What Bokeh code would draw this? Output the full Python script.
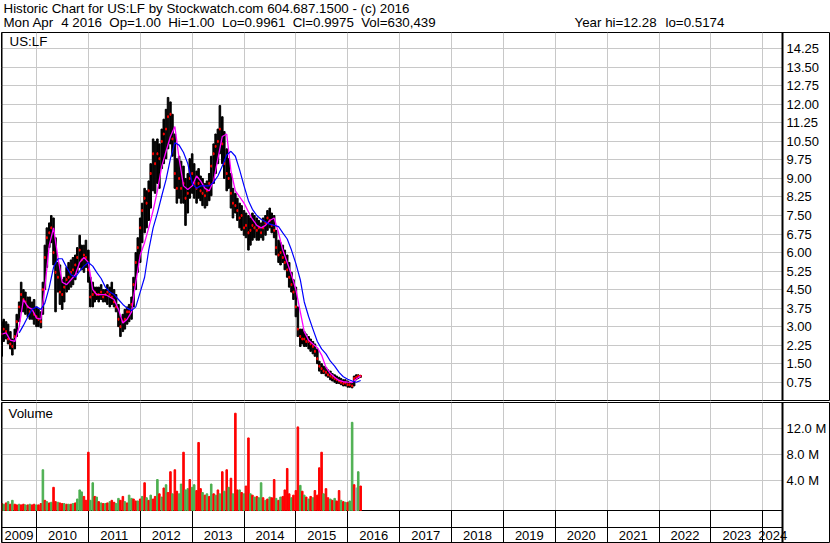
import pandas as pd
from bokeh.plotting import figure
from bokeh.layouts import column
from bokeh.models import (Range1d, FixedTicker, Label, Grid,
                          ColumnDataSource, LinearAxis, NumeralTickFormatter)
from bokeh.core.properties import value
from bokeh.embed import file_html
from bokeh.resources import INLINE

# ---------------- data ----------------
first_date = "2009-05-01"          # semi-monthly bars
low = [1.8, 2.4, 2.5, 2.3, 2.1, 1.85, 2.1, 2.6, 3.2, 3.6, 3.6, 3.5, 3.4, 3.3, 3.3, 3.1,
       3.0, 3.0, 2.95, 3.5, 4.5, 5.4, 6.2, 6.4, 5.5, 3.6, 4.4, 3.9, 3.7, 4.0, 4.4, 4.5,
       4.6, 4.7, 4.9, 5.2, 5.4, 5.3, 5.2, 5.4, 4.8, 3.8, 3.8, 4.0, 4.1, 4.0, 4.1, 4.0,
       4.0, 3.9, 3.8, 3.9, 3.8, 3.6, 3.0, 2.6, 2.8, 2.9, 3.1, 3.2, 3.3, 3.8, 4.5, 5.2,
       5.6, 6.4, 6.8, 7.0, 7.3, 7.8, 8.5, 8.4, 8.8, 8.6, 9.4, 9.6, 9.8, 10.2, 10.4, 9.9,
       8.6, 8.0, 8.2, 8.0, 8.0, 7.1, 7.6, 8.2, 8.4, 8.2, 8.0, 8.2, 8.1, 7.9, 7.8, 7.9,
       8.1, 8.3, 8.8, 9.2, 9.6, 10.0, 9.6, 9.0, 8.5, 8.6, 7.8, 7.4, 7.6, 7.3, 7.0, 6.9,
       6.7, 6.6, 6.1, 6.3, 6.5, 6.6, 6.5, 6.5, 6.6, 6.5, 6.7, 6.9, 7.0, 6.8, 6.6, 5.9,
       5.6, 5.5, 5.6, 5.3, 5.0, 4.6, 4.4, 4.1, 3.4, 2.6, 2.2, 2.3, 2.2, 2.2, 2.1, 2.0,
       1.9, 1.8, 1.5, 1.2, 1.1, 1.1, 1.0, 0.95, 0.85, 0.8, 0.75, 0.7, 0.7, 0.65, 0.6, 0.6,
       0.55, 0.55, 0.52, 0.6, 0.85, 0.9, 0.95]
high = [3.2, 3.3, 3.2, 3.1, 2.8, 2.5, 2.9, 3.5, 4.0, 4.8, 4.5, 4.4, 4.2, 4.2, 4.0, 4.1,
        3.8, 3.7, 3.6, 4.8, 6.3, 7.0, 7.2, 7.5, 7.4, 6.6, 5.6, 5.5, 4.9, 5.0, 5.4, 5.6,
        5.7, 5.8, 5.9, 6.2, 6.7, 6.3, 6.3, 6.5, 6.1, 5.0, 4.8, 4.6, 4.6, 4.6, 4.7, 4.5,
        4.5, 4.7, 4.6, 4.8, 4.5, 4.3, 3.9, 3.4, 3.5, 3.7, 3.8, 3.9, 4.2, 5.0, 6.0, 6.6,
        7.4, 8.0, 8.6, 8.5, 8.9, 9.6, 10.6, 10.5, 10.6, 10.4, 11.0, 11.4, 11.8, 12.28, 12.1, 11.6,
        10.8, 9.8, 9.9, 9.7, 9.5, 9.0, 9.2, 9.8, 10.0, 9.6, 9.3, 9.4, 9.1, 9.0, 8.8, 8.9,
        9.2, 9.9, 10.4, 10.8, 11.0, 11.95, 11.5, 10.9, 10.2, 9.8, 9.2, 8.6, 8.4, 8.2, 8.0, 7.9,
        7.7, 7.6, 7.5, 7.4, 7.6, 7.5, 7.4, 7.3, 7.2, 7.4, 7.5, 7.7, 7.8, 7.6, 7.5, 6.9,
        6.5, 6.4, 6.3, 6.1, 5.9, 5.6, 5.2, 4.9, 4.6, 3.8, 2.9, 2.9, 2.8, 2.7, 2.6, 2.5,
        2.4, 2.3, 2.1, 1.6, 1.5, 1.4, 1.35, 1.25, 1.2, 1.1, 1.05, 1.0, 0.95, 0.9, 0.85, 0.85,
        0.8, 0.75, 0.7, 1.0, 1.05, 1.05, 1.02]
close = [2.7, 2.9, 2.8, 2.5, 2.3, 2.2, 2.6, 3.2, 3.8, 4.3, 4.1, 4.0, 3.8, 3.6, 3.7, 3.5,
         3.4, 3.3, 3.2, 4.5, 5.8, 6.6, 6.8, 7.0, 6.0, 5.2, 5.0, 4.4, 4.3, 4.6, 4.9, 5.0,
         5.2, 5.3, 5.5, 5.8, 6.1, 5.7, 5.9, 5.8, 5.3, 4.2, 4.3, 4.4, 4.3, 4.3, 4.4, 4.2,
         4.3, 4.4, 4.3, 4.2, 4.0, 3.8, 3.3, 3.0, 3.2, 3.3, 3.6, 3.6, 3.9, 4.7, 5.6, 6.2,
         7.0, 7.7, 8.2, 8.0, 8.5, 9.2, 10.0, 9.6, 10.0, 9.8, 10.5, 10.8, 11.0, 11.5, 11.6, 10.6,
         9.2, 8.6, 9.0, 8.6, 8.8, 8.2, 8.4, 9.0, 9.2, 8.8, 8.6, 8.8, 8.5, 8.4, 8.3, 8.5,
         8.8, 9.5, 10.0, 10.3, 10.5, 11.0, 10.4, 9.6, 9.2, 9.0, 8.4, 8.0, 7.9, 7.7, 7.4, 7.5,
         7.0, 7.1, 6.8, 6.9, 7.1, 7.0, 6.9, 7.0, 6.8, 7.0, 7.2, 7.4, 7.3, 7.1, 6.9, 6.2,
         5.9, 6.0, 5.8, 5.6, 5.3, 5.0, 4.7, 4.4, 3.8, 2.9, 2.6, 2.5, 2.5, 2.4, 2.4, 2.3,
         2.2, 2.0, 1.7, 1.4, 1.3, 1.2, 1.15, 1.05, 1.0, 0.95, 0.9, 0.85, 0.8, 0.75, 0.7, 0.72,
         0.65, 0.65, 0.6, 0.9, 0.95, 1.0, 1.0]
# short moving average (magenta), one value per month starting with the first bar
ma_short = [2.7, 2.75, 2.45, 2.4, 3.0, 4.1, 3.8, 3.7, 3.35, 3.3, 4.6, 6.3, 7.0, 5.8, 4.8, 4.7,
            4.9, 5.1, 5.6, 5.8, 5.6, 4.5, 4.3, 4.3, 4.3, 4.2, 4.1, 3.7, 3.15, 3.3, 3.6, 4.8,
            5.9, 6.4, 7.0, 7.7, 8.5, 9.5, 10.1, 10.7, 11.1, 9.8, 8.7, 8.55, 8.7, 9.1, 8.9, 8.6,
            8.5, 8.9, 9.8, 10.7, 10.8, 9.3, 8.5, 8.25, 8.0, 7.65, 7.35, 7.1, 7.0, 7.1, 7.3, 7.4,
            6.8, 6.1, 5.6, 5.1, 4.5, 3.6, 2.8, 2.45, 2.3, 2.15, 1.85, 1.35, 1.1, 0.95, 0.82, 0.77,
            0.75, 0.74, 0.88, 1.0]
# long moving average (blue), one value per month starting with bar no. 8
ma_long_first = 8
ma_long = [2.75, 3.05, 3.4, 3.7, 3.8, 3.7, 3.95, 4.6, 5.4, 5.75, 5.75, 5.4, 5.1, 5.0, 5.25, 5.45,
           5.6, 5.45, 5.2, 4.95, 4.6, 4.4, 4.3, 4.1, 3.9, 3.75, 3.65, 3.8, 4.4, 5.0, 6.1, 7.0,
           7.6, 8.3, 8.95, 9.8, 10.45, 10.35, 10.05, 9.6, 8.8, 8.6, 8.7, 8.7, 8.7, 8.85, 9.1, 9.5,
           9.95, 10.1, 9.9, 9.35, 8.7, 8.1, 7.75, 7.5, 7.35, 7.25, 7.15, 7.1, 7.05, 6.8, 6.55, 6.1,
           5.55, 4.9, 4.0, 3.4, 2.9, 2.4, 2.1, 1.9, 1.6, 1.4, 1.15, 0.97, 0.87, 0.8, 0.75, 0.82]
# volume in millions, and bar colour code (r = down, g = up, x = unchanged)
volume_m = [0.5, 0.4, 0.6, 0.8, 0.4, 1.0, 0.4, 0.3, 0.4, 0.3, 0.4, 0.3, 0.3, 0.4, 0.3, 0.4,
            0.3, 0.3, 0.5, 5.7, 1.0, 0.8, 0.6, 0.7, 3.0, 0.8, 0.7, 0.6, 0.5, 0.5, 0.4, 0.4,
            0.4, 0.5, 0.6, 1.2, 2.6, 2.3, 1.6, 1.0,
            8.4, 1.0, 3.7, 1.6, 1.5, 0.8, 0.6, 0.5, 0.5, 0.6, 0.8, 1.0, 0.7, 0.5, 1.3, 1.0,
            1.6, 0.8, 0.6, 1.8, 1.3, 1.2, 0.9, 0.9,
            1.2, 1.6, 3.7, 1.4, 1.0, 1.8, 1.2, 1.6, 4.2, 2.0, 1.5, 2.9, 3.4, 2.2, 5.4, 2.0,
            5.7, 2.4, 2.0, 3.5, 8.4, 2.6, 2.8, 4.2,
            3.0, 3.4, 2.5, 9.9, 2.8, 2.2, 1.8, 2.0, 1.6, 3.5, 2.0, 1.8, 2.6, 2.0, 5.4, 2.4,
            5.7, 3.0, 4.4, 2.0, 14.4, 2.6, 2.6, 2.2,
            2.0, 3.2, 10.6, 2.0, 1.8, 1.5, 1.6, 1.4, 3.7, 1.4, 1.0, 1.2, 1.5, 1.4, 4.2, 1.3,
            1.0, 1.5, 1.6, 2.6, 5.9, 2.0, 1.4, 1.8,
            2.5, 12.3, 3.3, 2.4, 1.8, 1.5, 1.2, 1.6, 1.4, 2.5, 1.8, 6.0, 8.4, 2.0, 2.8, 1.4,
            1.2, 1.0, 1.3, 0.9, 2.5, 1.0, 0.8, 0.7,
            0.7, 0.9, 13.0, 3.4, 2.9, 5.4, 3.2]
volume_dir = list("rgrgrgrrgrrgrgrr" "grrgrgrgrrgrrgrgrgrgggrr" "rggrgrgrgrgrrggrrgrggrrg"
                  "rgrgrgrrgrgrgrrgrrggrggr" "ggrrrgrgrgrgrgrgrgrgrrgr" "grrgrgrggrgrgrrgrgrrrrgr"
                  "rrgrgrgrgrrrrgrrgrgrrgrg" "rggrxgr")

price_ticks = [0.75, 1.50, 2.25, 3.00, 3.75, 4.50, 5.25, 6.00, 6.75, 7.50, 8.25, 9.00,
               9.75, 10.50, 11.25, 12.00, 12.75, 13.50, 14.25]
vol_ticks = [4e6, 8e6, 12e6]
vol_tick_labels = ["4.0 M", "8.0 M", "12.0 M"]
years = [2009, 2010, 2011, 2012, 2013, 2014, 2015, 2016, 2017, 2018, 2019, 2020, 2021,
         2022, 2023, 2024]
symbol = "US:LF"
header1 = "Historic Chart for US:LF by Stockwatch.com 604.687.1500 - (c) 2016"
header2_fields = ["Mon Apr", "4 2016", "Op=1.00", "Hi=1.00", "Lo=0.9961", "Cl=0.9975",
                  "Vol=630,439", "Year hi=12.28", "lo=0.5174"]

# ---------------- layout ----------------
W = 830
BL, BR = 1, 1
FW = W - BL - BR
FONT = "Liberation Sans"
FS_TXT = "13.33px"      # header and panel names
FS_NUM = "13px"         # tick labels and years
GRID = "#c8c8c8"
DAY = pd.Timedelta(days=1)
BAR_W = 11 * 86400000
header2_x = [2, 59.7, 107.8, 166.7, 220.5, 291.2, 359.7, 573, 664]   # left edge of each field

dates = pd.date_range(first_date, periods=len(close), freq="SMS")

# time scale: Jan 1 2010 at x=36 px, Jan 1 2024 at x=762.3 px, frame from x=1 to x=829
t2010 = pd.Timestamp("2010-01-01")
t2024 = pd.Timestamp("2024-01-01")
px_day = (762.3 - 36.0) / (t2024 - t2010).days
x_start = t2010 - (36.0 - BL) / px_day * DAY
x_stop = t2010 + (BL + FW - 36.0) / px_day * DAY
x_border = t2010 + (782.0 - 36.0) / px_day * DAY
x_range = Range1d(x_start, x_stop)
xs_ms = x_start.value / 1e6
xb_ms = x_border.value / 1e6

year_starts = [pd.Timestamp(f"{y}-01-01") for y in years]
year_ms = [t.value / 1e6 for t in year_starts[1:]]

colour_map = {"r": "#ff0000", "g": "#4caf50", "x": "#a8a8a8"}


def bare_fig(h, top, bottom, xr, yr, left=BL, right=BR):
    p = figure(width=W, height=h, x_range=xr, y_range=yr,
               x_axis_location=None, y_axis_location=None, output_backend="svg",
               toolbar_location=None, title=None, min_border_left=left,
               min_border_right=right, min_border_top=top, min_border_bottom=bottom)
    p.center = []
    p.background_fill_color = "white"
    p.border_fill_color = "white"
    return p


def make_fig(h, top, bottom, yr):
    p = bare_fig(h, top, bottom, x_range, yr)
    p.outline_line_color = "black"
    p.outline_line_width = 1
    p.outline_line_alpha = 1
    lax = LinearAxis(fixed_location=xs_ms, ticker=FixedTicker(ticks=[]))
    lax.axis_line_width = 2
    lax.axis_line_color = "black"
    lax.major_tick_line_color = None
    lax.minor_tick_line_color = None
    lax.major_label_text_font_size = "0px"
    p.add_layout(lax, "left")
    return p


def grid(p, dim, ticks, colour, cross):
    try:
        g = Grid(dimension=dim, ticker=FixedTicker(ticks=ticks), grid_line_color=colour,
                 cross_bounds=cross)
        p.add_layout(g)
    except Exception:
        a, b = cross
        if dim == 0:
            p.segment(x0=ticks, x1=ticks, y0=[a] * len(ticks), y1=[b] * len(ticks),
                      line_color=colour, level="underlay")
        else:
            p.segment(x0=[a] * len(ticks), x1=[b] * len(ticks), y0=ticks, y1=ticks,
                      line_color=colour, level="underlay")


def right_axis(p, ticks, **kw):
    ax = LinearAxis(fixed_location=xb_ms, ticker=FixedTicker(ticks=ticks), **kw)
    ax.axis_line_color = "black"
    ax.axis_line_width = 2
    ax.major_tick_line_color = None
    ax.minor_tick_line_color = None
    ax.major_tick_out = 0
    ax.major_tick_in = 0
    ax.major_label_standoff = 4
    ax.major_label_text_font = FONT
    ax.major_label_text_font_size = FS_NUM
    ax.major_label_text_color = "black"
    p.add_layout(ax, "right")
    return ax


def label(p, x, y, text):
    # y is the vertical centre of the text, in px above the frame bottom
    p.add_layout(Label(x=x, y=y, x_units="screen", y_units="screen", text=text,
                       text_font=FONT, text_font_size=FS_TXT, text_color="black",
                       text_baseline="middle"))


# ---- header ----
HH = 32
header = bare_fig(HH, 0, 0, Range1d(0, 1), Range1d(0, 1), left=0, right=0)
header.outline_line_color = None
label(header, 2, HH - 7.7, header1)
for fx, txt in zip(header2_x, header2_fields):
    label(header, fx, HH - 22.4, txt)

# ---- price panel ----
PH, PT, PB = 369, 0, 1
PFH = PH - PT - PB
P_LO, P_HI = 0.01, 14.91
price = make_fig(PH, PT, PB, Range1d(P_LO, P_HI))
grid(price, 0, year_ms, GRID, (P_LO, P_HI))
grid(price, 1, price_ticks, GRID, (xs_ms, xb_ms))
right_axis(price, price_ticks, formatter=NumeralTickFormatter(format="0.00"))

psrc = ColumnDataSource(dict(date=dates, low=low, high=high, close=close))
price.vbar(x="date", bottom="low", top="high", width=BAR_W, color="black", source=psrc)
price.rect(x="date", y="close", width=BAR_W * 0.55, height=2, height_units="screen",
           color="#ff0000", source=psrc)
price.line(dates[::2], ma_short, color="#ff00ff", line_width=1.3)
price.line(dates[ma_long_first::2], ma_long, color="#0000ff", line_width=1.2)
label(price, 8, PFH - 9.2, symbol)

# ---- volume panel with the date row below it ----
VH, VT, VB = 142, 1, 1
VFH = VH - VT - VB                 # 140 px: 108 px of volume, 32 px of dates
PX_PER_M = 6.5
V_HI = 16.05e6
V_LO = V_HI - VFH / PX_PER_M * 1e6
VOL_BASE = V_HI - 108 / PX_PER_M * 1e6          # bottom of the volume panel
DATE_MID = VOL_BASE - 17 / PX_PER_M * 1e6       # line between the two date rows
DATE_TXT = VOL_BASE - 24.5 / PX_PER_M * 1e6     # centre of the year labels
vol = make_fig(VH, VT, VB, Range1d(V_LO, V_HI))
grid(vol, 0, year_ms, GRID, (VOL_BASE, V_HI))
grid(vol, 1, vol_ticks, GRID, (xs_ms, xb_ms))
grid(vol, 0, year_ms, "black", (V_LO, VOL_BASE))
grid(vol, 1, [VOL_BASE, DATE_MID], "black", (xs_ms, xb_ms))
right_axis(vol, vol_ticks, major_label_overrides=dict(zip(vol_ticks, vol_tick_labels)))
vsrc = ColumnDataSource(dict(date=dates, vol=[v * 1e6 for v in volume_m],
                             colour=[colour_map[c] for c in volume_dir]))
vol.vbar(x="date", bottom=VOL_BASE, top="vol", width=BAR_W, color="colour", source=vsrc)
label(vol, 7, VFH - 10.7, "Volume")

mids = []
for i, y in enumerate(years):
    s = max(year_starts[i], x_start)
    e = min(pd.Timestamp(f"{y + 1}-01-01"), x_border)
    mids.append(s + (e - s) / 2)
vol.text(x=mids, y=[DATE_TXT] * len(years), text=[str(y) for y in years],
         text_font=value(FONT), text_font_size=value(FS_NUM), text_align="center",
         text_baseline="middle", text_color="black")

layout = column(header, price, vol, spacing=0)
open("out.html", "w").write(file_html(layout, INLINE))
